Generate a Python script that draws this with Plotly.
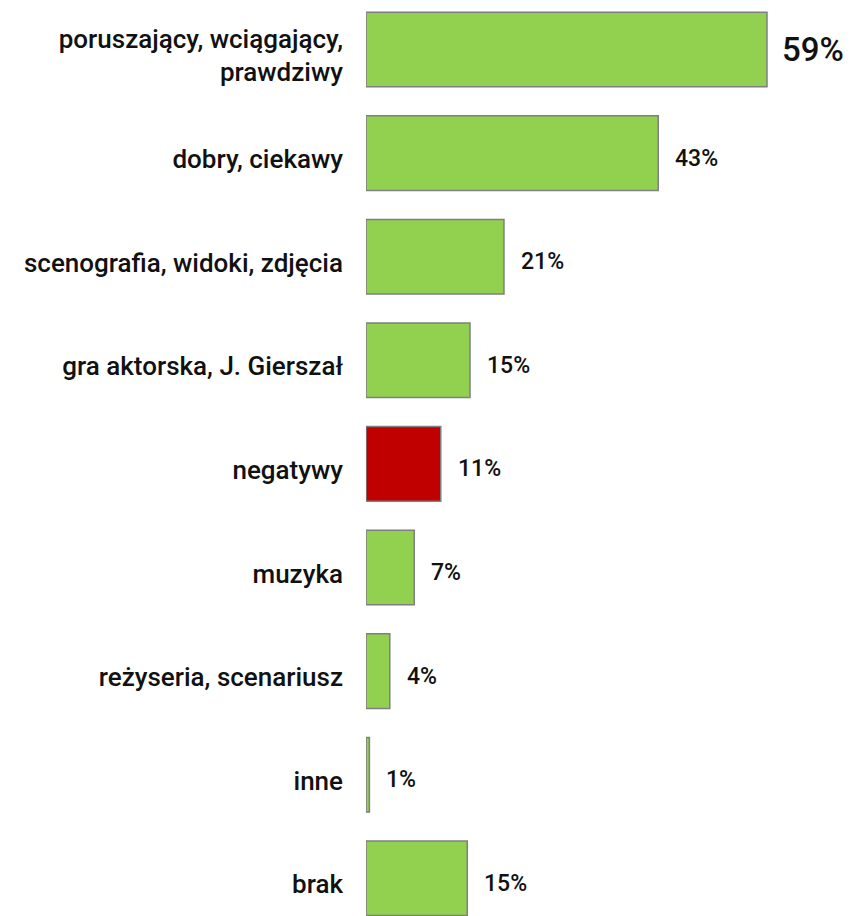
import plotly.graph_objects as go

# ── Data ──────────────────────────────────────────────────────────────────
CATEGORIES = [
    "poruszający, wciągający,<br>prawdziwy",
    "dobry, ciekawy",
    "scenografia, widoki, zdjęcia",
    "gra aktorska, J. Gierszał",
    "negatywy",
    "muzyka",
    "reżyseria, scenariusz",
    "inne",
    "brak",
]
VALUES = [59, 43, 20.3, 15.3, 11.0, 7.1, 3.5, 0.5, 14.9]
VALUE_LABELS = ["59%", "43%", "21%", "15%", "11%", "7%", "4%", "1%", "15%"]

GREEN = "#92D050"
RED = "#C00000"
colors = [RED if c == "negatywy" else GREEN for c in CATEGORIES]

FONT = "Roboto"

fig = go.Figure(go.Bar(
    x=VALUES, y=CATEGORIES, orientation="h",
    width=0.72,
    marker=dict(color=colors, line=dict(color="#7F7F7F", width=1.5)),
    hoverinfo="skip",
))

# value labels right of each bar
for i, (v, lab) in enumerate(zip(VALUES, VALUE_LABELS)):
    big = i == 0
    fig.add_annotation(
        x=v, y=CATEGORIES[i], text=lab, showarrow=False,
        xanchor="left", xshift=13 if big else 15, yshift=0 if big else -5,
        font=dict(family=FONT, size=33 if big else 23, color="#111111", weight=500),
    )

# page body has an 8px margin, so the figure is 8px smaller than the window
fig.update_layout(
    width=843, height=908,
    margin=dict(l=358, r=0, t=0, b=0),
    plot_bgcolor="white", paper_bgcolor="white",
    showlegend=False,
    font=dict(family=FONT, size=26, color="#111111", weight=500),
)
fig.update_xaxes(range=[0, 71.36], visible=False, showgrid=False, zeroline=False)
fig.update_yaxes(
    type="category", range=[8.364, -0.4006],
    showgrid=False, zeroline=False, showline=False, ticks="",
    ticklabelstandoff=22, ticklabelshift=-6,
    tickfont=dict(family=FONT, size=26, color="#111111", weight=500),
)

fig.write_html("out.html")
